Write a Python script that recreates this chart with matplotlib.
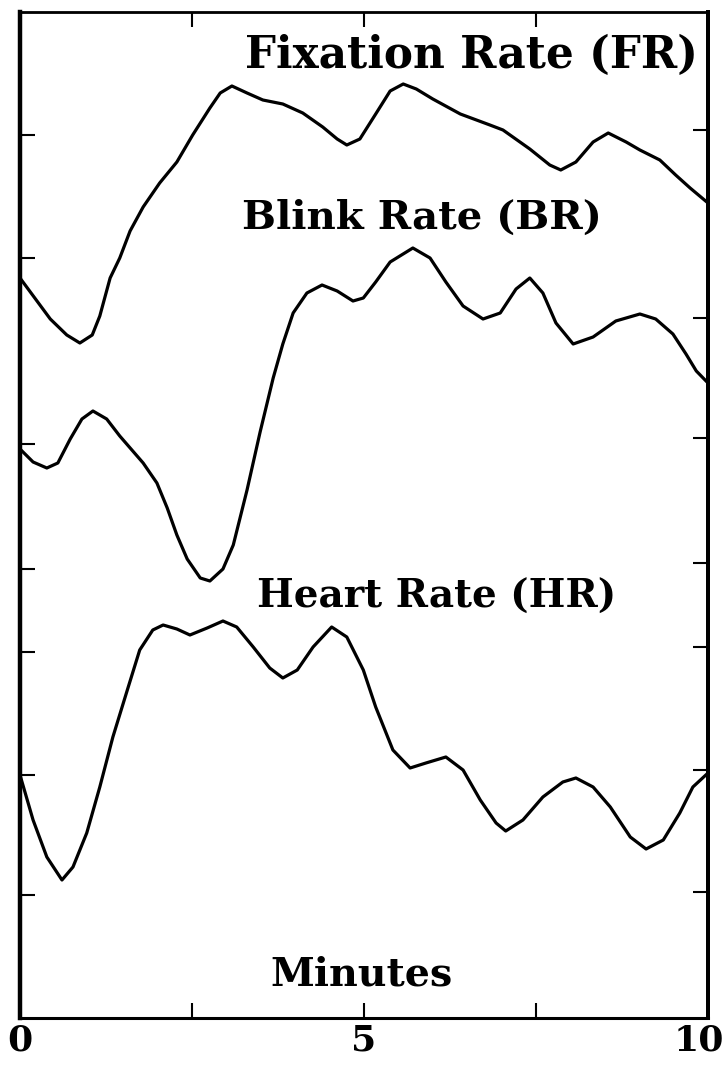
import matplotlib
matplotlib.use('Agg')
import matplotlib.pyplot as plt
import matplotlib.transforms as mtransforms

# minutos (eje x) y valores de cada serie (unidades arbitrarias)
fr_t = [0, 0.44, 0.68, 0.87, 1.05, 1.16, 1.31, 1.45, 1.60, 1.79, 2.03, 2.28, 2.51, 2.76,
        2.91, 3.08, 3.30, 3.53, 3.82, 4.11, 4.40, 4.61, 4.75, 4.94, 5.17, 5.38, 5.57,
        5.76, 6.00, 6.40, 6.83, 7.02, 7.41, 7.70, 7.86, 8.08, 8.33, 8.55, 8.81, 9.01,
        9.30, 9.53, 9.74, 10.0]
fr = [74.0, 69.9, 68.3, 67.5, 68.3, 70.2, 74.0, 76.0, 78.7, 81.1, 83.5, 85.6, 88.3, 91.0,
      92.5, 93.2, 92.5, 91.8, 91.4, 90.5, 89.1, 87.9, 87.3, 87.9, 90.4, 92.7, 93.4,
      92.9, 91.9, 90.4, 89.3, 88.8, 86.9, 85.3, 84.8, 85.6, 87.6, 88.5, 87.6, 86.8,
      85.8, 84.3, 83.0, 81.5]

br_t = [0, 0.19, 0.39, 0.55, 0.73, 0.90, 1.06, 1.26, 1.45, 1.79, 1.99, 2.14, 2.28, 2.43,
        2.62, 2.76, 2.95, 3.10, 3.30, 3.49, 3.68, 3.82, 3.97, 4.17, 4.39, 4.61, 4.84,
        4.99, 5.17, 5.38, 5.71, 5.96, 6.19, 6.44, 6.73, 6.98, 7.21, 7.41, 7.60, 7.79,
        8.04, 8.33, 8.66, 9.01, 9.24, 9.49, 9.68, 9.83, 10.0]
br = [56.9, 55.6, 55.0, 55.5, 57.9, 59.9, 60.7, 59.9, 58.2, 55.5, 53.5, 51.0, 48.3, 45.9,
      44.0, 43.7, 44.9, 47.3, 52.8, 58.6, 64.0, 67.4, 70.5, 72.5, 73.3, 72.7, 71.7,
      72.0, 73.6, 75.6, 77.0, 76.0, 73.6, 71.2, 69.9, 70.5, 72.9, 74.0, 72.5, 69.5,
      67.4, 68.1, 69.7, 70.4, 69.9, 68.4, 66.4, 64.7, 63.5]

hr_t = [0, 0.19, 0.39, 0.61, 0.77, 0.97, 1.16, 1.35, 1.56, 1.74, 1.93, 2.08, 2.28, 2.47,
        2.72, 2.95, 3.15, 3.39, 3.63, 3.82, 4.03, 4.26, 4.53, 4.75, 4.99, 5.17, 5.42,
        5.67, 5.90, 6.19, 6.44, 6.69, 6.92, 7.06, 7.31, 7.60, 7.89, 8.08, 8.33, 8.58,
        8.87, 9.10, 9.35, 9.59, 9.78, 10.0]
hr = [24.3, 19.8, 16.1, 13.8, 15.1, 18.5, 23.1, 28.1, 32.8, 36.8, 38.8, 39.3, 38.9, 38.3,
      39.0, 39.7, 39.1, 37.1, 35.0, 34.0, 34.8, 37.1, 39.1, 38.1, 34.8, 31.1, 26.8,
      25.0, 25.5, 26.1, 24.8, 21.8, 19.5, 18.7, 19.8, 22.1, 23.6, 24.0, 23.1, 21.1,
      18.1, 16.9, 17.8, 20.5, 23.1, 24.5]

# marcas de los ejes
xticks = [0, 2.5, 5, 7.5, 10]
xlabels = ['0', '', '5', '', '10']
yticks_izq = [88.3, 76.0, 57.4, 44.9, 36.6, 24.3, 12.3]
yticks_der = [88.8, 70.0, 58.0, 45.5, 37.1, 24.8, 12.6]

fig = plt.figure(figsize=(7.26, 10.65), dpi=100)
ax = fig.add_axes([20/726, 1 - 1018/1065, 688/726, 1006/1065])

for t, v in [(fr_t, fr), (br_t, br), (hr_t, hr)]:
    ax.plot(t, v, color='black', lw=2.3, solid_joinstyle='round', solid_capstyle='round')

ax.set_xlim(0, 10)
ax.set_ylim(0, 100.6)
ax.set_xticks(xticks)
ax.set_xticklabels(xlabels, fontfamily='DejaVu Serif', fontweight='bold', fontsize=26)
ax.set_yticks(yticks_izq)
ax.set_yticklabels([])
ax.tick_params(axis='x', direction='in', length=11, width=1.5, top=True, pad=4)
ax.tick_params(axis='y', direction='in', length=11, width=1.5, left=True)

# el "10" queda pegado al borde derecho
ult = ax.get_xticklabels()[-1]
ult.set_horizontalalignment('right')
ult.set_transform(ult.get_transform() + mtransforms.ScaledTranslation(16/100, 0, fig.dpi_scale_trans))

ax2 = ax.twinx()
ax2.set_ylim(0, 100.6)
ax2.set_yticks(yticks_der)
ax2.set_yticklabels([])
ax2.tick_params(axis='y', direction='in', length=11, width=1.5)

ax.spines['left'].set_linewidth(3.2)
ax.spines['right'].set_linewidth(2.8)
ax.spines['top'].set_linewidth(2.0)
ax.spines['bottom'].set_linewidth(2.2)
ax2.spines['right'].set_linewidth(2.8)

# titulos de cada curva
estilo = dict(fontfamily='DejaVu Serif', fontweight='bold', ha='center', va='center')
fig.text(471/726, 1 - 55/1065, 'Fixation Rate (FR)', fontsize=31.5, **estilo)
fig.text(422/726, 1 - 218/1065, 'Blink Rate (BR)', fontsize=29, **estilo)
fig.text(437/726, 1 - 597/1065, 'Heart Rate (HR)', fontsize=28, **estilo)
fig.text(361/726, 1 - 975/1065, 'Minutes', fontsize=28.5, **estilo)

fig.savefig('out.png', dpi=100)
